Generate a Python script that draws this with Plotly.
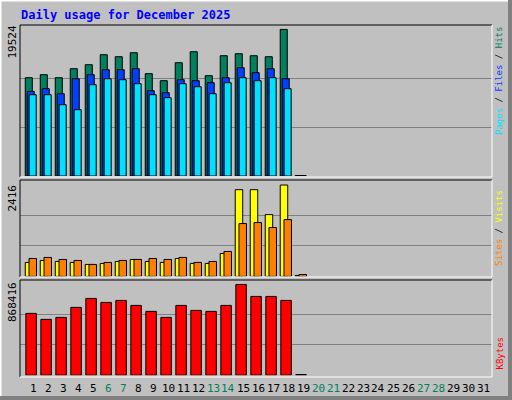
import plotly.graph_objects as go

days = list(range(1, 32))
day_labels = [str(d) for d in days]
weekend = {6, 7, 13, 14, 20, 21, 27, 28}
active = list(range(1, 20))

hits = [13091, 13491, 13091, 14289, 14821, 16152, 15886, 16418, 13624, 12692, 15088, 16551, 13358, 16019, 16285, 16019, 15886, 19524, 60]
files = [11271, 11626, 10960, 12957, 13491, 14156, 14156, 14289, 11360, 11094, 12825, 12692, 12425, 13091, 14422, 13757, 14289, 12957, 60]
pages = [10827, 10827, 9496, 8831, 12159, 12957, 12825, 12292, 10827, 10428, 12292, 11893, 10960, 12425, 13091, 12692, 13091, 11626, 60]
visits = [369, 422, 395, 369, 316, 343, 395, 448, 395, 369, 474, 343, 343, 606, 2293, 2293, 1634, 2416, 25]
sites = [474, 501, 448, 422, 316, 369, 422, 448, 474, 448, 501, 369, 395, 659, 1397, 1424, 1292, 1502, 50]
kbytes = [591360, 534100, 553190, 648620, 734510, 696340, 715420, 667700, 610450, 553190, 667700, 620000, 610450, 667700, 868416, 753600, 753600, 715420, 6000]

HMAX, VMAX, KMAX = 19524, 2416, 868416
fig = go.Figure()
line = dict(color="black", width=1)

def bar(y, color, off, w, ax):
    fig.add_trace(go.Bar(x=active, y=y, marker=dict(color=color, line=line),
                         offset=off, width=w, yaxis=ax, xaxis="x"))

bar(hits, "#00805c", -0.52, 0.47, "y")
bar(files, "#0040ff", -0.39, 0.47, "y")
bar(pages, "#00e0ff", -0.26, 0.47, "y")
bar(visits, "#ffff00", -0.52, 0.5, "y2")
bar(sites, "#ff8000", -0.27, 0.5, "y2")
bar(kbytes, "#ff0000", -0.48, 0.7, "y3")

def yax(dom, mx, top):
    return dict(domain=dom, range=[0, mx * top], tickvals=[mx / 3, mx * 2 / 3],
                showticklabels=False, gridcolor="#808080", gridwidth=1,
                zeroline=False, fixedrange=True)

fig.update_layout(
    width=512, height=400, margin=dict(l=0, r=0, t=0, b=0),
    paper_bgcolor="#c0c0c0", plot_bgcolor="#c0c0c0",
    barmode="overlay", showlegend=False,
    xaxis=dict(domain=[20/512, 492/512], range=[0.13, 31.6], tickvals=[],
               showgrid=False, zeroline=False, anchor="y3", fixedrange=True),
    yaxis=yax([0.56, 0.9375], HMAX, 1.03),
    yaxis2=yax([0.309, 0.5475], VMAX, 1.044),
    yaxis3=yax([0.062, 0.298], KMAX, 1.04),
)

font = dict(family="DejaVu Sans Mono", size=11, color="black")
for d in days:
    fig.add_annotation(x=d, y=1-388/400, xref="x", yref="paper", yanchor="middle",
                       text=str(d), showarrow=False,
                       font=dict(family="DejaVu Sans Mono", size=11,
                                 color="#00805c" if d in weekend else "black"))

fig.add_annotation(x=19/512, y=1-15/400, xref="paper", yref="paper", xanchor="left",
                   yanchor="middle", text="<b>Daily usage for December 2025</b>", showarrow=False,
                   font=dict(family="DejaVu Sans Mono", size=12, color="#0000ff"))
for txt, ytop in [(str(HMAX), 24), (str(VMAX), 183), (str(KMAX), 280)]:
    fig.add_annotation(x=12/512, y=1-ytop/400, xref="paper", yref="paper", yanchor="top",
                       xanchor="center", text=txt, textangle=-90, showarrow=False, font=font)

def sp(t, c):
    return f"<span style='color:{c}'>{t}</span>"
rfont = dict(family="DejaVu Sans Mono", size=9, color="black")
for txt, ybot in [(sp("Pages", "#00e0ff") + " / " + sp("Files", "#0040ff") + " / " + sp("Hits", "#00805c"), 137),
                  (sp("Sites", "#ff8000") + " / " + sp("Visits", "#ffff00"), 268),
                  (sp("KBytes", "#ff0000"), 372)]:
    fig.add_annotation(x=499/512, y=1-ybot/400, xref="paper", yref="paper", yanchor="bottom",
                       xanchor="center", text=txt, textangle=-90, showarrow=False, font=rfont)

shapes = []
def hline(x0, x1, y, col, w=1):
    shapes.append(dict(type="line", xref="paper", yref="paper", x0=x0/512, x1=x1/512,
                       y0=1-y/400, y1=1-y/400, line=dict(color=col, width=w)))
def vline(x, y0, y1, col, w=1):
    shapes.append(dict(type="line", xref="paper", yref="paper", x0=x/512, x1=x/512,
                       y0=1-y0/400, y1=1-y1/400, line=dict(color=col, width=w)))
hline(0, 512, 0.5, "white", 2); vline(0.5, 0, 400, "white", 2)
hline(0, 512, 398, "#808080", 4); vline(510, 0, 400, "#808080", 4)
for t, b in [(25, 177), (180, 277), (280, 377)]:
    hline(20, 492, t, "black"); vline(20, t, b, "black")
    hline(20, 492, b, "white"); vline(492, t, b, "white")
fig.update_layout(shapes=shapes)
fig.write_html("out.html", config={"displayModeBar": False, "staticPlot": True})
with open("out.html") as f:
    html = f.read()
html = html.replace("<head>", "<head><style>html,body{margin:0;padding:0;overflow:hidden}</style>", 1)
with open("out.html", "w") as f:
    f.write(html)
